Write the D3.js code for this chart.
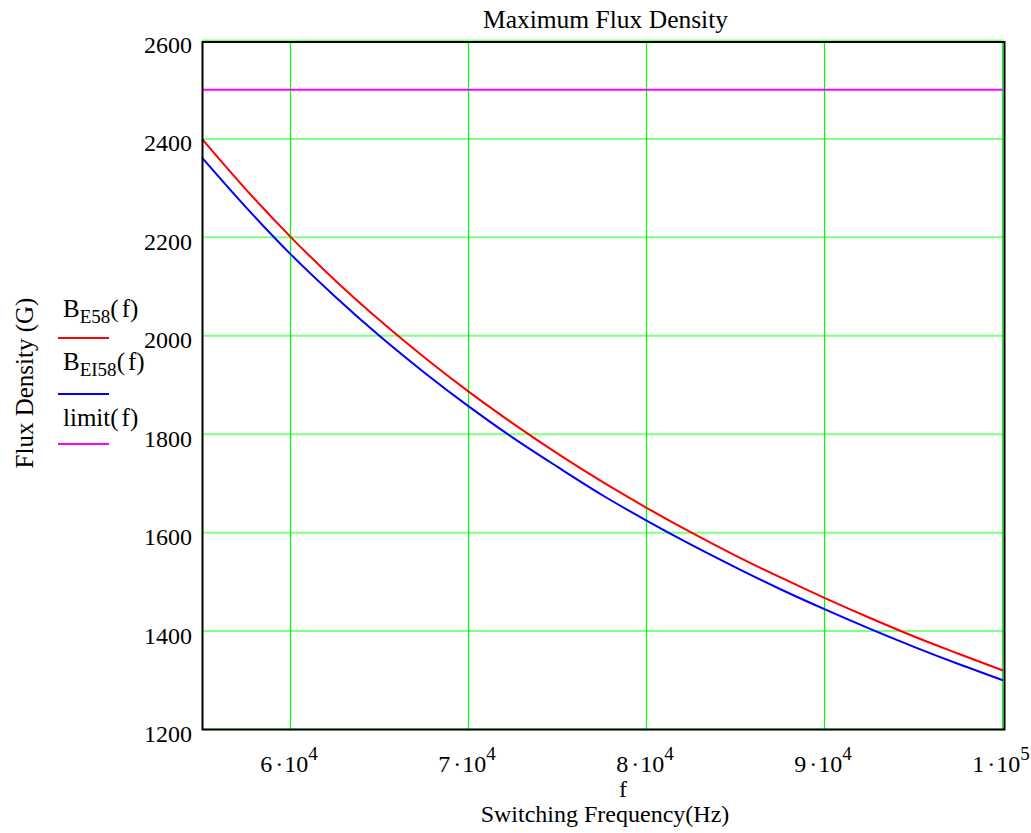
<!DOCTYPE html>
<html>
<head>
<meta charset="utf-8">
<script src="https://cdn.jsdelivr.net/npm/d3@7"></script>
<style>
  html, body { margin: 0; padding: 0; background: #ffffff; }
  svg { display: block; }
  text { font-family: "Liberation Serif", "Times New Roman", serif; fill: #000; }
</style>
</head>
<body>
<svg id="chart" width="1031" height="833"></svg>
<script>
// Switching frequency samples (Hz)
const freq = [55000, 57500, 60000, 62500, 65000, 67500, 70000, 72500, 75000, 77500,
              80000, 82500, 85000, 87500, 90000, 92500, 95000, 97500, 100000];
// Peak flux density for the E58 core (G)
const bE58 = [2400, 2296, 2200, 2112, 2031, 1956, 1886, 1821, 1760, 1703,
              1650, 1600, 1553, 1509, 1467, 1427, 1389, 1354, 1320];
// Peak flux density for the EI58 core (G)
const bEI58 = [2362, 2260, 2165, 2079, 1999, 1925, 1856, 1792, 1733, 1676,
               1624, 1575, 1529, 1485, 1444, 1405, 1368, 1333, 1300];
// Flux density limit (G)
const limitFreq = [55000, 100000];
const limitVal = [2500, 2500];

const yTicks = [1200, 1400, 1600, 1800, 2000, 2200, 2400, 2600];
const xTicks = [60000, 70000, 80000, 90000, 100000];
const xTickMant = ["6", "7", "8", "9", "1"];
const xTickExp = ["4", "4", "4", "4", "5"];

const legendItems = [
  { base: "B", sub: "E58", tail: "(f)", color: "#ff0000" },
  { base: "B", sub: "EI58", tail: "(f)", color: "#0000ff" },
  { base: "limit", sub: "", tail: "(f)", color: "#ff00ff" }
];

const svg = d3.select("#chart");
const x = d3.scaleLinear().domain([55000, 100000]).range([202, 1003]);
const y = d3.scaleLinear().domain([1200, 2600]).range([729.5, 40.5]);

// Grid
const grid = svg.append("g");
grid.selectAll("line.h").data(yTicks).join("line")
  .attr("x1", 202).attr("x2", 1004)
  .attr("y1", d => y(d)).attr("y2", d => y(d))
  .attr("stroke", "#80ff80").attr("stroke-width", 2);
grid.selectAll("line.v").data(xTicks).join("line")
  .attr("x1", d => Math.round(x(d)) - 0.5).attr("x2", d => Math.round(x(d)) - 0.5)
  .attr("y1", 41).attr("y2", 729)
  .attr("stroke", "#00ff00").attr("stroke-width", 1.2);

// Series
const line = d3.line().x(d => x(d[0])).y(d => y(d[1])).curve(d3.curveMonotoneX);
const series = [
  { f: limitFreq, v: limitVal, color: "#ff00ff" },
  { f: freq, v: bE58, color: "#ff0000" },
  { f: freq, v: bEI58, color: "#0000ff" }
];
svg.append("g").selectAll("path").data(series).join("path")
  .attr("d", s => line(s.f.map((f, i) => [f, s.v[i]])))
  .attr("fill", "none").attr("stroke", s => s.color).attr("stroke-width", 2);

// Frame
svg.append("rect")
  .attr("x", 202.5).attr("y", 42)
  .attr("width", 1004.5 - 202.5).attr("height", 729.5 - 42)
  .attr("fill", "none").attr("stroke", "#000").attr("stroke-width", 2);

// Y tick labels
svg.append("g").selectAll("text").data(yTicks).join("text")
  .attr("x", 192).attr("y", d => y(d) + 12.5)
  .attr("text-anchor", "end").attr("font-size", 24)
  .text(d => d);

// X tick labels: m·10^e
const xt = svg.append("g").selectAll("text").data(xTicks).join("text")
  .attr("x", d => x(d) - 2).attr("y", 772)
  .attr("text-anchor", "middle").attr("font-size", 24);
xt.append("tspan").text((d, i) => xTickMant[i]);
xt.append("tspan").attr("dx", 3).text("\u00b7");
xt.append("tspan").attr("dx", 1).text("10");
xt.append("tspan").attr("dy", -12).attr("font-size", 19).text((d, i) => xTickExp[i]);

// Axis labels and title
svg.append("text").attr("x", 623).attr("y", 797).attr("text-anchor", "middle")
  .attr("font-size", 24).text("f");
svg.append("text").attr("x", 605).attr("y", 822).attr("text-anchor", "middle")
  .attr("font-size", 24).text("Switching Frequency(Hz)");
svg.append("text").attr("x", 605.5).attr("y", 28).attr("text-anchor", "middle")
  .attr("font-size", 25.5).text("Maximum Flux Density");
svg.append("text").attr("transform", "translate(33,383) rotate(-90)")
  .attr("text-anchor", "middle").attr("font-size", 25).text("Flux Density (G)");

// Legend
const legendY = [316.5, 370, 426];
const lineY = [338, 394, 444];
const lg = svg.append("g");
legendItems.forEach((it, i) => {
  const t = lg.append("text").attr("x", 63).attr("y", legendY[i]).attr("font-size", 25);
  t.append("tspan").text(it.base);
  if (it.sub) {
    t.append("tspan").attr("dy", 6).attr("font-size", 19).text(it.sub);
    t.append("tspan").attr("dy", -6).text("(");
  } else {
    t.append("tspan").text("(");
  }
  t.append("tspan").attr("dx", 3).text("f)");
  lg.append("line").attr("x1", 58).attr("x2", 109)
    .attr("y1", lineY[i]).attr("y2", lineY[i])
    .attr("stroke", it.color).attr("stroke-width", 2);
});
</script>
</body>
</html>
